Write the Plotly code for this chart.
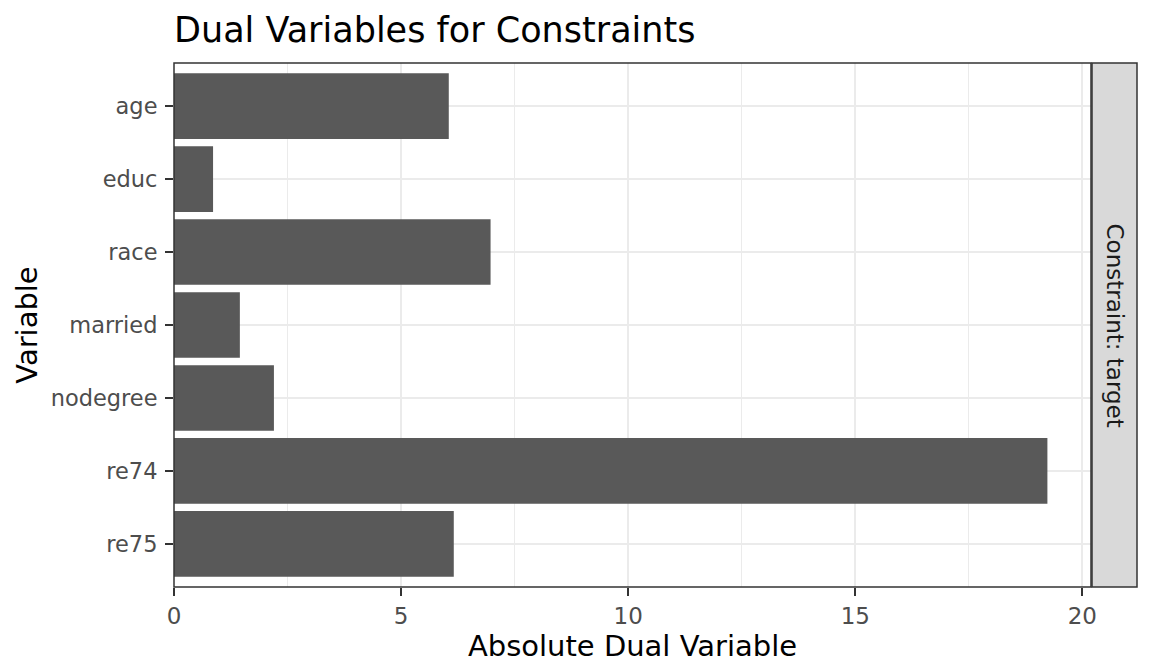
import plotly.graph_objects as go

variables = ["age", "educ", "race", "married", "nodegree", "re74", "re75"]
dual_values = [6.05, 0.86, 6.97, 1.45, 2.20, 19.23, 6.16]
x_ticks = [0, 5, 10, 15, 20]
strip_label = "Constraint: target"

W, H = 1152, 672
L, R, T, B = 174, 61, 63, 85
pw = W - L - R

fig = go.Figure()
fig.add_trace(go.Bar(
    x=dual_values, y=variables, orientation="h",
    marker=dict(color="#595959", line=dict(width=0)),
    width=0.9, hoverinfo="x+y",
))

font = "DejaVu Sans"
fig.update_layout(
    width=W, height=H,
    margin=dict(l=L, r=R, t=T, b=B, pad=0),
    plot_bgcolor="white", paper_bgcolor="white",
    showlegend=False,
    font=dict(family=font, color="#4D4D4D"),
    title=dict(text="Dual Variables for Constraints", x=L / W, xanchor="left",
               xref="container", y=1 - 30 / H, yanchor="middle", yref="container",
               font=dict(size=35, color="black", family=font)),
    xaxis=dict(range=[0, 20.19], tickvals=x_ticks, ticks="outside", ticklen=8,
               tickwidth=1.5, tickcolor="#333333", showgrid=True, gridcolor="#EBEBEB",
               gridwidth=2, zeroline=False, showline=False,
               tickfont=dict(size=23, color="#4D4D4D", family=font),
               title=dict(text="Absolute Dual Variable", standoff=0,
                          font=dict(size=29, color="black", family=font)),
               minor=dict(dtick=2.5, tick0=0, showgrid=True, gridcolor="#EBEBEB", gridwidth=1)),
    yaxis=dict(categoryorder="array", categoryarray=variables, range=[6.59, -0.59],
               ticks="outside", ticklen=8, tickwidth=1.5, tickcolor="#333333",
               showgrid=True, gridcolor="#EBEBEB", gridwidth=2, zeroline=False,
               showline=False, ticklabelstandoff=3,
               tickfont=dict(size=22.5, color="#4D4D4D", family=font),
               title=dict(text="Variable", standoff=4,
                          font=dict(size=29, color="black", family=font))),
)

# panel border
fig.add_shape(type="rect", xref="paper", yref="paper", x0=0, x1=1, y0=0, y1=1,
              line=dict(color="#333333", width=1.5), fillcolor="rgba(0,0,0,0)", layer="above")
# facet strip
sx0 = (1092 - L) / pw
sx1 = (1137 - L) / pw
fig.add_shape(type="rect", xref="paper", yref="paper", x0=sx0, x1=sx1, y0=0, y1=1,
              line=dict(color="#333333", width=1.5), fillcolor="#D9D9D9", layer="above")
fig.add_annotation(text=strip_label, xref="paper", yref="paper", x=(sx0 + sx1) / 2, y=0.5,
                   textangle=90, showarrow=False, xanchor="center", yanchor="middle",
                   font=dict(size=23, color="#1A1A1A", family=font))

fig.write_html("out.html", config={"displayModeBar": False},
               post_script="document.body.style.margin='0';document.body.style.padding='0';")
